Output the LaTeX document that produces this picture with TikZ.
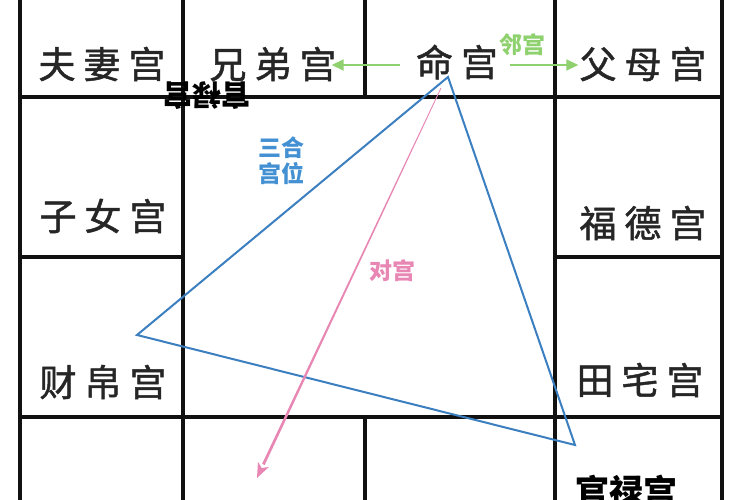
\documentclass[tikz,border=0pt]{standalone}
\usepackage{fontspec}
\newfontfamily\cjk{Noto Sans CJK SC}
\newfontfamily\cjkm[FakeBold=1.3]{Noto Sans CJK SC}
\usetikzlibrary{calc,arrows.meta}
\definecolor{gridc}{HTML}{111111}
\definecolor{palc}{HTML}{262626}
\definecolor{greenc}{HTML}{8FD16E}
\definecolor{bluec}{HTML}{3B7FC0}
\definecolor{bluelab}{HTML}{4390D2}
\definecolor{pinkc}{HTML}{E886B4}
\newcommand\pgap{\hspace{8pt}}
\begin{document}
\begin{tikzpicture}[x=1pt,y=-1pt,
  gridline/.style={line width=4.5pt, draw=gridc, line cap=rect},
  pal/.style={font=\cjkm\fontsize{37}{37}\selectfont, text=palc, inner sep=0pt},
  lab/.style={font=\cjk\bfseries\fontsize{23}{26}\selectfont, inner sep=0pt, align=center},
  garrow/.style={draw=greenc, line width=1.8pt, -{Triangle[length=12pt,width=11pt]}},
  tri/.style={draw=bluec, line width=2pt, line join=miter},
]
\fill[white] (0,0) rectangle (750,500);
\useasboundingbox (0,0) rectangle (750,500);
% grid
\draw[gridline] (20,-5) -- (20,505);
\draw[gridline] (183,-5) -- (183,505);
\draw[gridline] (555,-5) -- (555,505);
\draw[gridline] (722,-5) -- (722,505);
\draw[gridline] (365,-5) -- (365,97);
\draw[gridline] (365,417) -- (365,505);
\draw[gridline] (20,97) -- (722,97);
\draw[gridline] (20,417) -- (722,417);
\draw[gridline] (20,257) -- (183,257);
\draw[gridline] (555,257) -- (722,257);
% palaces
\node[pal] (fuqi) at (102,64) {夫\pgap 妻\pgap 宫};
\node[pal] (xiongdi) at (273,64) {兄\pgap 弟\pgap 宫};
\node[pal] (ming) at (457,62) {命\pgap 宫};
\node[pal] (fumu) at (643,64) {父\pgap 母\pgap 宫};
\node[pal] (zinv) at (103,216) {子\pgap 女\pgap 宫};
\node[pal] (fude) at (643,223) {福\pgap 德\pgap 宫};
\node[pal] (caibo) at (103,382) {财\pgap 帛\pgap 宫};
\node[pal] (tianzhai) at (640,380) {田\pgap 宅\pgap 宫};
\node[font=\cjk\bfseries\fontsize{34}{34}\selectfont, inner sep=0pt, anchor=north, text=black] (guanlu) at (626,475) {官禄宫};
\node[font=\cjk\bfseries\fontsize{29}{29}\selectfont, inner sep=0pt, rotate=180, text=black] (mirror) at (207,96) {官禄宫};
% green neighbour arrows
\draw[garrow] ($(ming.west)+(-16,3)$) -- ($(xiongdi.east)+(-5,1)$);
\draw[garrow] ($(ming.east)+(12,3)$) -- ($(fumu.west)+(-1,1)$);
\node[lab, text=greenc] (lin) at (522,45) {邻宫};
% blue triangle
\coordinate (tA) at (448,77);
\coordinate (tB) at (137,335);
\coordinate (tC) at (575,445);
\draw[tri] (tA) -- (tB) -- (tC) -- cycle;
\node[lab, text=bluelab] (sanhe) at (281,161) {三合\\宫位};
% pink opposite arrow (tapered)
\coordinate (ps) at (441,88);
\coordinate (pe) at (257,478);
\coordinate (pb) at ($(pe)!15pt!(ps)$);
\fill[pinkc] ($(ps)!0.4pt!90:(pe)$) -- ($(pb)!1.4pt!-90:(ps)$) -- ($(pb)!1.4pt!90:(ps)$) -- ($(ps)!0.4pt!-90:(pe)$) -- cycle;
\fill[pinkc] (pe) -- ($(pb)!6pt!90:(ps)$) -- ($(pe)!11pt!(ps)$) -- ($(pb)!6pt!-90:(ps)$) -- cycle;
\node[lab, text=pinkc] (dui) at (392,271) {对宫};
\end{tikzpicture}
\end{document}
